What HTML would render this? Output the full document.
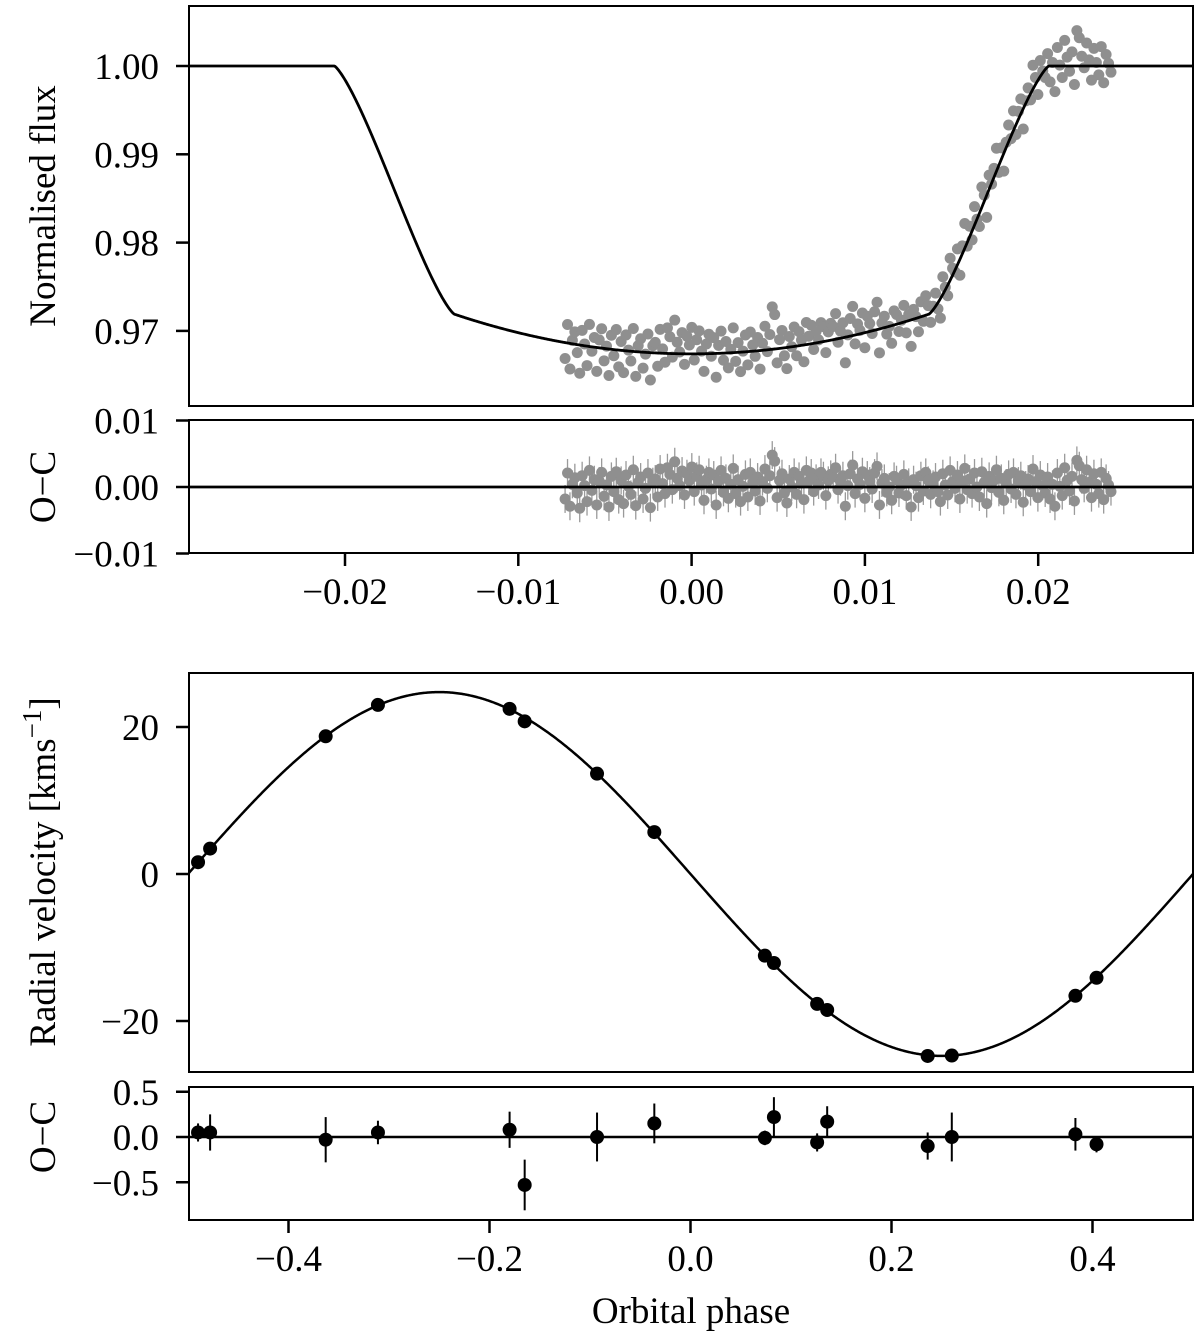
<!DOCTYPE html>
<html><head><meta charset="utf-8"><title>Transit and RV fit</title>
<style>
html,body{margin:0;padding:0;background:#fff}
svg{display:block;font-family:"Liberation Serif","DejaVu Serif",serif}
</style></head>
<body>
<svg id="chart" width="1200" height="1339" viewBox="0 0 1200 1339" xmlns="http://www.w3.org/2000/svg"></svg>
<script>
// ---- Light curve data ----
// residuals in units of 1e-3 (O-C), regular cadence
const lcPhaseStart = -0.0073;
const lcPhaseEnd = 0.0242;
const lcResid = [
 -1.8,2.1,-2.9,0.4,1.4,-0.9,-3.2,1.7,0.2,-2.2,2.5,-0.5,1.1,-2.7,0.9,2.2,-1.4,0.3,-3.0,1.6,
 -0.7,2.3,-1.9,1.0,-2.5,1.8,0.1,-1.1,2.6,-2.8,0.7,1.5,-1.8,-0.2,2.1,-3.1,0.8,1.2,-1.5,2.7,
 0.5,-1.0,2.9,1.9,-0.4,3.8,1.3,0.2,2.4,-1.2,2.0,1.0,3.0,-0.7,1.6,2.6,0.3,-2.0,1.1,2.2,
 -0.3,1.8,-2.7,0.9,2.5,-0.8,1.3,-1.7,0.4,2.8,-1.0,1.1,-2.2,0.1,1.9,-1.5,2.2,0.7,-0.6,1.5,
 -2.1,0.8,2.7,-0.2,1.7,4.8,3.9,-1.6,1.0,2.0,-0.9,-2.4,1.2,0.0,2.2,-1.1,1.6,0.6,-1.9,2.5,
 0.9,2.1,-0.7,1.3,0.3,2.2,1.7,-1.3,1.0,1.9,1.5,2.9,-0.4,0.8,1.7,-2.9,0.2,2.0,3.3,-1.0,
 1.2,0.4,2.3,-1.7,1.8,0.9,-0.3,2.1,3.1,-2.7,0.6,1.3,-0.8,0.0,-2.0,1.6,1.1,-0.9,0.3,1.9,
 -1.3,0.7,-3.0,1.1,0.2,-1.6,1.7,-0.6,2.2,1.0,-1.1,0.4,1.5,-0.7,-2.2,2.0,0.3,-1.2,2.5,0.8,
 -0.2,1.8,-1.8,0.9,2.8,-0.4,1.2,-1.0,2.1,0.0,-1.5,2.3,0.7,-2.5,1.6,-0.1,1.0,2.6,-0.8,1.3,
 -2.0,0.6,1.9,-0.3,2.2,-1.1,0.9,1.7,-2.3,0.3,1.2,-0.7,2.7,0.8,-1.6,1.8,0.2,-0.9,1.5,-1.8,
 0.4,-2.9,2.1,0.1,-1.3,2.9,1.0,-0.6,1.6,-2.1,4.0,3.2,1.1,-0.2,2.6,0.7,-1.6,2.0,0.4,-1.0,
 2.2,-1.9,1.3,0.3,-0.7
];
const lcErr = 2.1; // 1e-3 units

// ---- RV data ----
const rvPhase = [-0.490,-0.478,-0.363,-0.311,-0.180,-0.165,-0.093,-0.036,0.074,0.083,0.126,0.136,0.236,0.260,0.383,0.404];
const rvOC    = [0.05,0.05,-0.03,0.05,0.08,-0.53,0.0,0.15,-0.01,0.22,-0.06,0.17,-0.10,0.0,0.03,-0.08];
const rvErr   = [0.10,0.20,0.25,0.13,0.20,0.28,0.27,0.22,0.08,0.22,0.10,0.17,0.15,0.27,0.18,0.09];
const rvK = 24.75;

// tick labels
const topXTicks = [-0.02,-0.01,0.00,0.01,0.02];
const fluxTicks = [1.00,0.99,0.98,0.97];
const lcOCTicks = [0.01,0.00,-0.01];
const botXTicks = [-0.4,-0.2,0.0,0.2,0.4];
const rvTicks = [20,0,-20];
const rvOCTicks = [0.5,0.0,-0.5];

// ---- axis functions ----
const xT = p => 345 + (p + 0.02) * 17330;
const yF = f => 66 + (1 - f) * 8830;
const yR1 = r => 487 - r * 6650;
const xB = p => 690.5 + p * 1005;
const yRV = v => 874 - v * 7.35;
const yOC = v => 1137 - v * 90.5;

// transit model
const c1 = -0.0206, c2 = -0.0137, c3 = 0.0137, c4 = 0.0206, fC = 0.9719, fMin = 0.9674;
function areaFrac(t){ t=Math.max(0,Math.min(1,t)); const th=2*Math.acos(1-2*t); return (th-Math.sin(th))/(2*Math.PI); }
function model(p){
  if (p<=c1 || p>=c4) return 1;
  if (p<c2) { const t=(p-c1)/(c2-c1); return 1-(1-fC)*(0.3*t+0.7*areaFrac(t)); }
  if (p>c3) { const t=(c4-p)/(c4-c3); return 1-(1-fC)*(0.3*t+0.7*areaFrac(t)); }
  const u=p/c3; return fMin+(fC-fMin)*u*u;
}

const NS="http://www.w3.org/2000/svg";
const svg=document.getElementById('chart');
function mk(tag, attrs, parent){ const e=document.createElementNS(NS,tag); for(const k in attrs) e.setAttribute(k,attrs[k]); (parent||svg).appendChild(e); return e; }
function grp(name){ const g=mk('g',{});   return g; }

const FS=37;
function frame(name,x0,y0,x1,y1){
  const r=mk('rect',{x:x0,y:y0,width:x1-x0,height:y1-y0,fill:'none',stroke:'#000','stroke-width':2});
  
  
}
function yTicks(name,vals,fy,fmt){
  const g=grp(name);
  vals.forEach(v=>{
    const y=fy(v);
    mk('line',{x1:176,x2:189,y1:y,y2:y,stroke:'#000','stroke-width':2.5},g);
    const t=mk('text',{x:159,y:y+13,'text-anchor':'end','font-size':FS},g);
    t.textContent=fmt(v);
    
    
  });
}
function xTicks(name,vals,fx,yb,fmt){
  const g=grp(name);
  vals.forEach(v=>{
    const x=fx(v);
    mk('line',{x1:x,x2:x,y1:yb,y2:yb+13,stroke:'#000','stroke-width':2.5},g);
    const t=mk('text',{x:x,y:yb+51,'text-anchor':'middle','font-size':FS},g);
    t.textContent=fmt(v);
    
    
  });
}
const neg=s=>s.replace('-','\u2212');
const fmt2=v=>neg(v.toFixed(2));
const fmt1=v=>neg(v.toFixed(1));
const fmt0=v=>neg(String(v));

function ylab(name,txt,x,y){
  const t=mk('text',{x:x,y:y,'text-anchor':'middle','font-size':FS,transform:`rotate(-90 ${x} ${y})`});
  t.textContent=txt;
  
  
  return t;
}

// ===== Panel 1: light curve =====
const lcN=lcResid.length;
const lcPh=lcResid.map((_,i)=>lcPhaseStart+i*(lcPhaseEnd-lcPhaseStart)/(lcN-1));
const gd=grp('flux-data-points');
lcResid.forEach((r,i)=>{
  const c=mk('circle',{cx:xT(lcPh[i]),cy:yF(model(lcPh[i])+r*1e-3),r:5.5,fill:'#8f8f8f'},gd);
  
  
});
let d='';
for(let x=189;x<=1193;x+=1){ const p=(x-345)/17330-0.02; d+=(x===189?'M':'L')+x+','+yF(model(p)).toFixed(2); }
const ml=mk('path',{d:d,fill:'none',stroke:'#000','stroke-width':2.8,'stroke-linejoin':'round'});


frame('flux-panel-frame',189,6,1193,406);
yTicks('flux-y-ticks',fluxTicks,yF,fmt2);
ylab('flux-y-axis-title','Normalised flux',55,206);

// ===== Panel 2: LC residuals =====
const ge=grp('lc-residual-points');
lcResid.forEach((r,i)=>{
  const x=xT(lcPh[i]);
  const l=mk('line',{x1:x,x2:x,y1:yR1((r+lcErr)*1e-3),y2:yR1((r-lcErr)*1e-3),stroke:'#9a9a9a','stroke-width':1.3},ge);
  
  
});
lcResid.forEach((r,i)=>{
  const c=mk('circle',{cx:xT(lcPh[i]),cy:yR1(r*1e-3),r:5.5,fill:'#8f8f8f'},ge);
  
  
});
const z1=mk('line',{x1:189,x2:1193,y1:yR1(0),y2:yR1(0),stroke:'#000','stroke-width':2.8});


frame('lc-oc-panel-frame',189,420,1193,553);
yTicks('lc-oc-y-ticks',lcOCTicks,yR1,v=>fmt2(v));
xTicks('phase-x-ticks-top',topXTicks,xT,553,fmt2);
ylab('lc-oc-y-axis-title','O\u2212C',55,487);

// ===== Panel 3: RV =====
let d2='';
for(let x=189;x<=1193;x+=1){ const p=(x-690.5)/1005; d2+=(x===189?'M':'L')+x+','+yRV(-rvK*Math.sin(2*Math.PI*p)).toFixed(2); }
const rl=mk('path',{d:d2,fill:'none',stroke:'#000','stroke-width':2.5});


const gr=grp('rv-data-points');
rvPhase.forEach((p,i)=>{
  const v=-rvK*Math.sin(2*Math.PI*p)+rvOC[i];
  const c=mk('circle',{cx:xB(p),cy:yRV(v),r:7,fill:'#000'},gr);
  
  
});
frame('rv-panel-frame',189,673,1193,1072);
yTicks('rv-y-ticks',rvTicks,yRV,fmt0);
const rt=ylab('rv-y-axis-title','',55,872);
rt.innerHTML='Radial velocity [kms<tspan dy="-14" font-size="27">\u22121</tspan><tspan dy="14">]</tspan>';

// ===== Panel 4: RV residuals =====
const z2=mk('line',{x1:189,x2:1193,y1:yOC(0),y2:yOC(0),stroke:'#000','stroke-width':2.5});


const go=grp('rv-residual-points');
rvPhase.forEach((p,i)=>{
  const x=xB(p);
  const l=mk('line',{x1:x,x2:x,y1:yOC(rvOC[i]+rvErr[i]),y2:yOC(rvOC[i]-rvErr[i]),stroke:'#000','stroke-width':2},go);
  
  
  const c=mk('circle',{cx:x,cy:yOC(rvOC[i]),r:7,fill:'#000'},go);
  
  
});
frame('rv-oc-panel-frame',189,1087,1193,1220);
yTicks('rv-oc-y-ticks',rvOCTicks,yOC,fmt1);
xTicks('phase-x-ticks-bottom',botXTicks,xB,1220,fmt1);
ylab('rv-oc-y-axis-title','O\u2212C',55,1137);
const xt=mk('text',{x:691,y:1323,'text-anchor':'middle','font-size':FS});
xt.textContent='Orbital phase';


</script>
</body></html>
